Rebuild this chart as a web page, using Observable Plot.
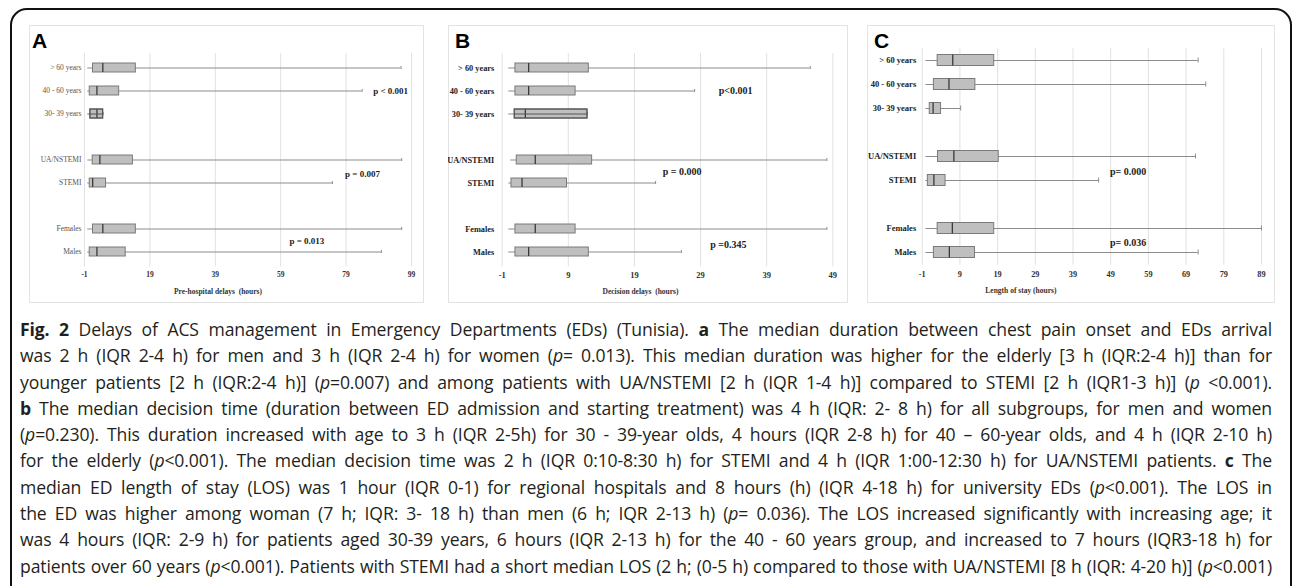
<!DOCTYPE html>
<html><head><meta charset="utf-8">
<script src="https://cdn.jsdelivr.net/npm/d3@7"></script>
<script src="https://cdn.jsdelivr.net/npm/@observablehq/plot@0.6"></script>
<style>
body{margin:0;background:#fff;width:1292px;height:586px;overflow:hidden;position:relative;font-family:"Open Sans";}
#frame{position:absolute;left:10px;top:8px;width:1282px;height:640px;border:2px solid #111;border-radius:17px;box-sizing:border-box;}
.panel{position:absolute;outline:1px solid #e3e3e3;outline-offset:-1px;}
.panel svg{position:absolute;left:0;top:0;}
.letter{position:absolute;font:bold 21px/21px "Liberation Sans";color:#000;}
#caption{position:absolute;left:20px;top:316px;width:1252px;font-size:17.6px;line-height:26.3px;color:#231f20;letter-spacing:-0.12px;}
#caption div{text-align:justify;text-align-last:justify;white-space:nowrap;}
</style></head>
<body>
<div id="frame"></div>
<div id="pA" class="panel" style="left:29px;top:25px;width:395px;height:278px"></div>
<div id="pB" class="panel" style="left:448px;top:25px;width:400px;height:278px"></div>
<div id="pC" class="panel" style="left:867px;top:25px;width:408px;height:278px"></div>
<div class="letter" style="left:32px;top:30px">A</div>
<div class="letter" style="left:455px;top:30px">B</div>
<div class="letter" style="left:874px;top:30px">C</div>
<div id="caption">
<div><b>Fig. 2</b> Delays of ACS management in Emergency Departments (EDs) (Tunisia). <b>a</b> The median duration between chest pain onset and EDs arrival</div>
<div>was 2 h (IQR 2-4 h) for men and 3 h (IQR 2-4 h) for women (<i>p</i>= 0.013). This median duration was higher for the elderly [3 h (IQR:2-4 h)] than for</div>
<div>younger patients [2 h (IQR:2-4 h)] (<i>p</i>=0.007) and among patients with UA/NSTEMI [2 h (IQR 1-4 h)] compared to STEMI [2 h (IQR1-3 h)] (<i>p</i> &lt;0.001).</div>
<div><b>b</b> The median decision time (duration between ED admission and starting treatment) was 4 h (IQR: 2- 8 h) for all subgroups, for men and women</div>
<div>(<i>p</i>=0.230). This duration increased with age to 3 h (IQR 2-5h) for 30 - 39-year olds, 4 hours (IQR 2-8 h) for 40 – 60-year olds, and 4 h (IQR 2-10 h)</div>
<div>for the elderly (<i>p</i>&lt;0.001). The median decision time was 2 h (IQR 0:10-8:30 h) for STEMI and 4 h (IQR 1:00-12:30 h) for UA/NSTEMI patients. <b>c</b> The</div>
<div>median ED length of stay (LOS) was 1 hour (IQR 0-1) for regional hospitals and 8 hours (h) (IQR 4-18 h) for university EDs (<i>p</i>&lt;0.001). The LOS in</div>
<div>the ED was higher among woman (7 h; IQR: 3- 18 h) than men (6 h; IQR 2-13 h) (<i>p</i>= 0.036). The LOS increased significantly with increasing age; it</div>
<div>was 4 hours (IQR: 2-9 h) for patients aged 30-39 years, 6 hours (IQR 2-13 h) for the 40 - 60 years group, and increased to 7 hours (IQR3-18 h) for</div>
<div>patients over 60 years (<i>p</i>&lt;0.001). Patients with STEMI had a short median LOS (2 h; (0-5 h) compared to those with UA/NSTEMI [8 h (IQR: 4-20 h)] (<i>p</i>&lt;0.001)</div>
</div>
<script>
// ---- categories ----
const rowOrder = ["> 60 years","40 - 60 years","30- 39 years","","UA/NSTEMI","STEMI"," ","Females","Males"];
const groups = ["> 60 years","40 - 60 years","30- 39 years","UA/NSTEMI","STEMI","Females","Males"];

// ---- A: pre-hospital delays (hours) ----
const preMin = [0, 0, 0, 0, 0, 0, 0];
const preQ1  = [1.6, 0.6, 0.8, 1.5, 0.6, 1.6, 0.6];
const preMed = [4.6, 2.8, 2.8, 3.7, 1.5, 4.6, 2.8];
const preQ3  = [14.7, 9.6, 4.7, 13.8, 5.6, 14.7, 11.6];
const preMax = [95.8, 83.9, 4.7, 96, 74.8, 96, 89.8];
const preTicks = [-1, 19, 39, 59, 79, 99];
const preP = ["p < 0.001", "p = 0.007", "p = 0.013"];
const prePx = [92.6, 84, 67];
const prePRow = ["40 - 60 years", "STEMI", "Males"];

// ---- B: decision delays (hours) ----
const decMin = [0, 0, 0, 0.3, 0, 0, 0];
const decQ1  = [1.0, 1.0, 0.9, 1.2, 0.4, 1.0, 1.0];
const decMed = [3.0, 3.0, 2.5, 4.0, 2.0, 4.0, 3.0];
const decQ3  = [12.1, 10.1, 11.9, 12.6, 8.8, 10.1, 12.1];
const decMax = [45.6, 28.1, 11.9, 48.1, 22.2, 48.1, 26.1];
const decTicks = [-1, 9, 19, 29, 39, 49];
const decP = ["p<0.001", "p = 0.000", "p =0.345"];
const decPx = [34.3, 26.2, 33.2];
const decPRow = ["40 - 60 years", "STEMI", "Males"];

// ---- C: length of stay (hours) ----
const losMin = [0, 0, 0, 0, 0, 0, 0];
const losQ1  = [3.1, 2.1, 1.0, 3.2, 0.5, 3.1, 2.1];
const losMed = [7.1, 6.1, 1.9, 7.4, 2.1, 7.0, 6.2];
const losQ3  = [18.1, 13.1, 4.0, 19.3, 5.2, 18.1, 13.0];
const losMax = [72.2, 74.2, 9.2, 71.5, 45.8, 89, 72.2];
const losTicks = [-1, 9, 19, 29, 39, 49, 59, 69, 79, 89];
const losP = ["p= 0.000", "p= 0.036"];
const losPx = [53.6, 53.6];
const losPRow = ["STEMI", "Males"];

function table(mn, q1, md, q3, mx) {
  return groups.map((g, i) => ({group: g, min: mn[i], q1: q1[i], med: md[i], q3: q3[i], max: mx[i]}));
}
function ptable(t, x, r, dys) {
  return t.map((s, i) => ({text: s, x: x[i], row: r[i], dy: dys[i]}));
}

const serif = "Liberation Serif";

function panel(o) {
  const inset = o.inset;
  const marks = [
    Plot.gridX(o.ticks, {stroke: "#d9d9d9", strokeOpacity: 1, strokeWidth: 0.8}),
    Plot.axisX(o.ticks, {tickSize: 0, tickPadding: o.tickPad, tickFormat: d => String(d), fontFamily: serif, fontWeight: "bold", fontSize: o.tickFont, fill: "#333", label: null}),
    Plot.axisY({tickSize: 0, tickPadding: o.yPad, fontFamily: serif, fontWeight: o.yWeight, fontSize: o.yFont, fill: o.yFill, label: null}),
    Plot.ruleY(o.data, {y: "group", x1: "min", x2: "max", stroke: "#8c8c8c", strokeWidth: 1.2}),
    Plot.tickX(o.data, {x: "max", y: "group", stroke: "#8c8c8c", strokeWidth: 1, insetTop: inset + 3, insetBottom: inset + 3}),
    Plot.barX(o.data, {x1: "q1", x2: "q3", y: "group", fill: "#bfbfbf", stroke: "#7a7a7a", strokeWidth: 1, insetTop: inset, insetBottom: inset}),
    Plot.tickX(o.data, {x: "med", y: "group", stroke: "#3a3a3a", strokeWidth: 1.3, insetTop: inset, insetBottom: inset}),
  ];
  if (o.through) {
    const d = o.data.filter(r => r.group === o.through);
    marks.push(Plot.barX(d, {x1: "q1", x2: "q3", y: "group", fill: "none", stroke: "#555", strokeWidth: 1.2, insetTop: inset, insetBottom: inset}));
    marks.push(Plot.ruleY(d, {y: "group", x1: "q1", x2: "q3", stroke: "#555", strokeWidth: 1}));
  }
  for (const p of o.pvals) {
    marks.push(Plot.text([p], {x: "x", y: "row", text: "text", dy: p.dy, fontFamily: serif, fontWeight: "bold", fontSize: o.pFont, fill: "#222"}));
  }
  marks.push(Plot.text([o.title], {frameAnchor: "bottom", dx: o.titleDx, dy: o.titleDy, fontFamily: serif, fontWeight: "bold", fontSize: o.titleFont, fill: "#333"}));
  return Plot.plot({
    width: o.width, height: 278,
    marginLeft: o.mL, marginRight: o.mR, marginTop: o.mT, marginBottom: o.mB,
    style: {background: "transparent"},
    x: {domain: o.domain, type: "linear"},
    y: {domain: rowOrder, type: "band", padding: 0},
    marks
  });
}

document.getElementById("pA").append(panel({
  data: table(preMin, preQ1, preMed, preQ3, preMax), ticks: preTicks, domain: [-1, 99],
  width: 395, mL: 55, mR: 13, mT: 28, mB: 36.6, inset: 7,
  tickPad: 5, tickFont: 7.5, yPad: 3, yFont: 7.5, yWeight: "normal", yFill: "#555",
  through: "30- 39 years",
  pvals: ptable(preP, prePx, prePRow, [0, -9, -11]), pFont: 9,
  title: "Pre-hospital delays  (hours)", titleDx: -30, titleDy: 27, titleFont: 7.5
}));
document.getElementById("pB").append(panel({
  data: table(decMin, decQ1, decMed, decQ3, decMax), ticks: decTicks, domain: [-1, 49],
  width: 400, mL: 53.7, mR: 15.7, mT: 28, mB: 36.6, inset: 7,
  tickPad: 5, tickFont: 8.5, yPad: 8, yFont: 8.3, yWeight: "bold", yFill: "#222",
  through: "30- 39 years",
  pvals: ptable(decP, decPx, decPRow, [0, -11, -7]), pFont: 10,
  title: "Decision delays  (hours)", titleDx: -27, titleDy: 27, titleFont: 7.5
}));
document.getElementById("pC").append(panel({
  data: table(losMin, losQ1, losMed, losQ3, losMax), ticks: losTicks, domain: [-1, 89],
  width: 408, mL: 54.7, mR: 14, mT: 23.3, mB: 38.3, inset: 6.5,
  tickPad: 6, tickFont: 8.3, yPad: 6, yFont: 8.5, yWeight: "bold", yFill: "#222",
  through: null,
  pvals: ptable(losP, losPx, losPRow, [-9, -10]), pFont: 10,
  title: "Length of stay (hours)", titleDx: -71, titleDy: 28, titleFont: 7.5
}));
</script>
</body></html>
